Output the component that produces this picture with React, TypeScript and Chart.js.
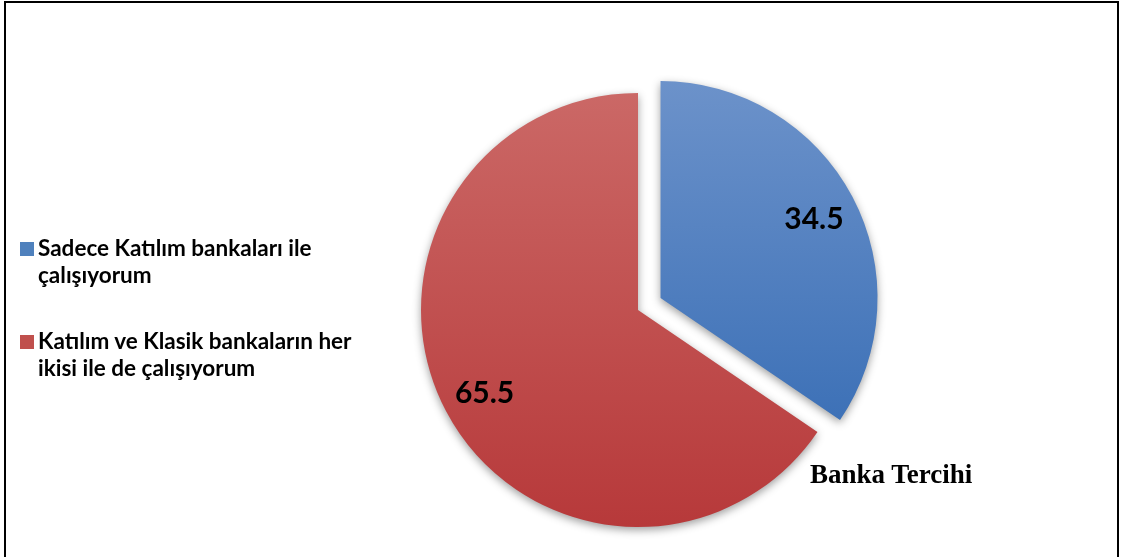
import React, { useEffect, useRef } from "react";
import { Chart, registerables } from "chart.js";

Chart.register(...registerables);

// ---- data ----
const categories = [
  "Sadece Katılım bankaları ile çalışıyorum",
  "Katılım ve Klasik bankaların her ikisi ile de çalışıyorum",
];
const legendLines = [
  ["Sadece Katılım bankaları ile", "çalışıyorum"],
  ["Katılım ve Klasik bankaların her", "ikisi ile de çalışıyorum"],
];
const values = [34.5, 65.5];
const valueLabels = ["34.5", "65.5"];
const explode = [25.5, 0];
const chartTitle = "Banka Tercihi";
const topColors = ["#6c92ca", "#cb6866"];
const bottomColors = ["#3d71b7", "#b7393a"];
const swatchColors = ["#4f81bd", "#c0504d"];

const total = values.reduce((a, b) => a + b, 0);

function sectorYRange(i: number) {
  let before = 0;
  for (let k = 0; k < i; k++) before += values[k];
  const a0 = -Math.PI / 2 + (2 * Math.PI * before) / total;
  const a1 = a0 + (2 * Math.PI * values[i]) / total;
  const ys = [0, Math.sin(a0), Math.sin(a1)];
  const norm = (a: number) => ((a % (2 * Math.PI)) + 2 * Math.PI) % (2 * Math.PI);
  const inRange = (t: number) => {
    const s = norm(a0);
    const span = a1 - a0;
    const d = norm(t - s);
    return d <= span;
  };
  if (inRange(-Math.PI / 2)) ys.push(-1);
  if (inRange(Math.PI / 2)) ys.push(1);
  const mid = (a0 + a1) / 2;
  return { min: Math.min(...ys), max: Math.max(...ys), mid };
}

const explodePlugin = {
  id: "explodeSlices",
  afterDatasetUpdate(chart: any, args: any) {
    const meta = chart.getDatasetMeta(args.index);
    meta.data.forEach((el: any, i: number) => {
      const mid = (el.startAngle + el.endAngle) / 2;
      el.x += Math.cos(mid) * explode[i];
      el.y += Math.sin(mid) * explode[i];
    });
  },
};

const shadowPlugin = {
  id: "sliceShadow",
  beforeDatasetDraw(chart: any) {
    const ctx = chart.ctx;
    ctx.save();
    ctx.shadowColor = "rgba(0,0,0,0.38)";
    ctx.shadowBlur = 8;
    ctx.shadowOffsetX = 0;
    ctx.shadowOffsetY = 3;
  },
  afterDatasetDraw(chart: any) {
    chart.ctx.restore();
  },
};

const labelPlugin = {
  id: "sliceLabels",
  afterDatasetsDraw(chart: any) {
    const ctx = chart.ctx;
    const meta = chart.getDatasetMeta(0);
    ctx.save();
    ctx.font = "bold 30px Lato";
    ctx.fillStyle = "#000";
    ctx.textAlign = "center";
    ctx.textBaseline = "middle";
    meta.data.forEach((el: any, i: number) => {
      const mid = (el.startAngle + el.endAngle) / 2;
      const r = el.outerRadius * 0.8;
      ctx.fillText(valueLabels[i], el.x + Math.cos(mid) * r, el.y + Math.sin(mid) * r + 2);
    });
    ctx.restore();
  },
};

export default function App() {
  const ref = useRef<HTMLCanvasElement>(null);

  useEffect(() => {
    if (!ref.current) return;
    const chart = new Chart(ref.current, {
      type: "pie",
      data: {
        labels: categories,
        datasets: [
          {
            data: values,
            borderWidth: 0,
            clip: false as any,
            backgroundColor: (c: any) => {
              const chart = c.chart;
              const a = chart.chartArea;
              const i = c.dataIndex;
              if (!a || i === undefined) return swatchColors[i ?? 0];
              const r = Math.min(a.right - a.left, a.bottom - a.top) / 2;
              const cy = (a.top + a.bottom) / 2;
              const yr = sectorYRange(i);
              const shift = Math.sin(yr.mid) * explode[i];
              const g = chart.ctx.createLinearGradient(0, cy + shift + yr.min * r, 0, cy + shift + yr.max * r);
              g.addColorStop(0, topColors[i]);
              g.addColorStop(1, bottomColors[i]);
              return g;
            },
          },
        ],
      },
      options: {
        animation: false,
        responsive: true,
        maintainAspectRatio: false,
        layout: { padding: { left: 421, top: 93, right: 266, bottom: 30 } },
        plugins: {
          legend: { display: false },
          tooltip: { enabled: false },
          title: { display: false },
        },
      },
      plugins: [explodePlugin, shadowPlugin, labelPlugin],
    });
    return () => chart.destroy();
  }, []);

  return (
    <div
      style={{
        position: "fixed",
        left: 0,
        top: 0,
        width: 1121,
        height: 557,
        overflow: "hidden",
        background: "#fff",
      }}
    >
      <div
        style={{
          position: "absolute",
          left: 4,
          top: 1,
          width: 1115,
          height: 560,
          boxSizing: "border-box",
          border: "2px solid #000",
          borderBottom: "none",
        }}
      />
      <div style={{ position: "absolute", left: 0, top: 0, width: 1121, height: 557 }}>
        <canvas ref={ref} />
      </div>
      {legendLines.map((lines, i) => (
        <div
          key={i}
          style={{
            position: "absolute",
            left: 20,
            top: i === 0 ? 235 : 328,
            fontFamily: "Lato",
            fontWeight: 700,
            fontSize: 22.5,
            lineHeight: "26.5px",
            color: "#000",
            whiteSpace: "nowrap",
          }}
        >
          <span
            style={{
              position: "absolute",
              left: 0,
              top: 7,
              width: 14,
              height: 14,
              background: swatchColors[i],
            }}
          />
          <div style={{ paddingLeft: 18 }}>
            {lines.map((l, k) => (
              <div key={k}>{l}</div>
            ))}
          </div>
        </div>
      ))}
      <div
        style={{
          position: "absolute",
          left: 810,
          top: 461,
          fontFamily: "'Liberation Serif'",
          fontWeight: 700,
          fontSize: 27,
          lineHeight: 1,
          color: "#000",
          whiteSpace: "nowrap",
        }}
      >
        {chartTitle}
      </div>
    </div>
  );
}
